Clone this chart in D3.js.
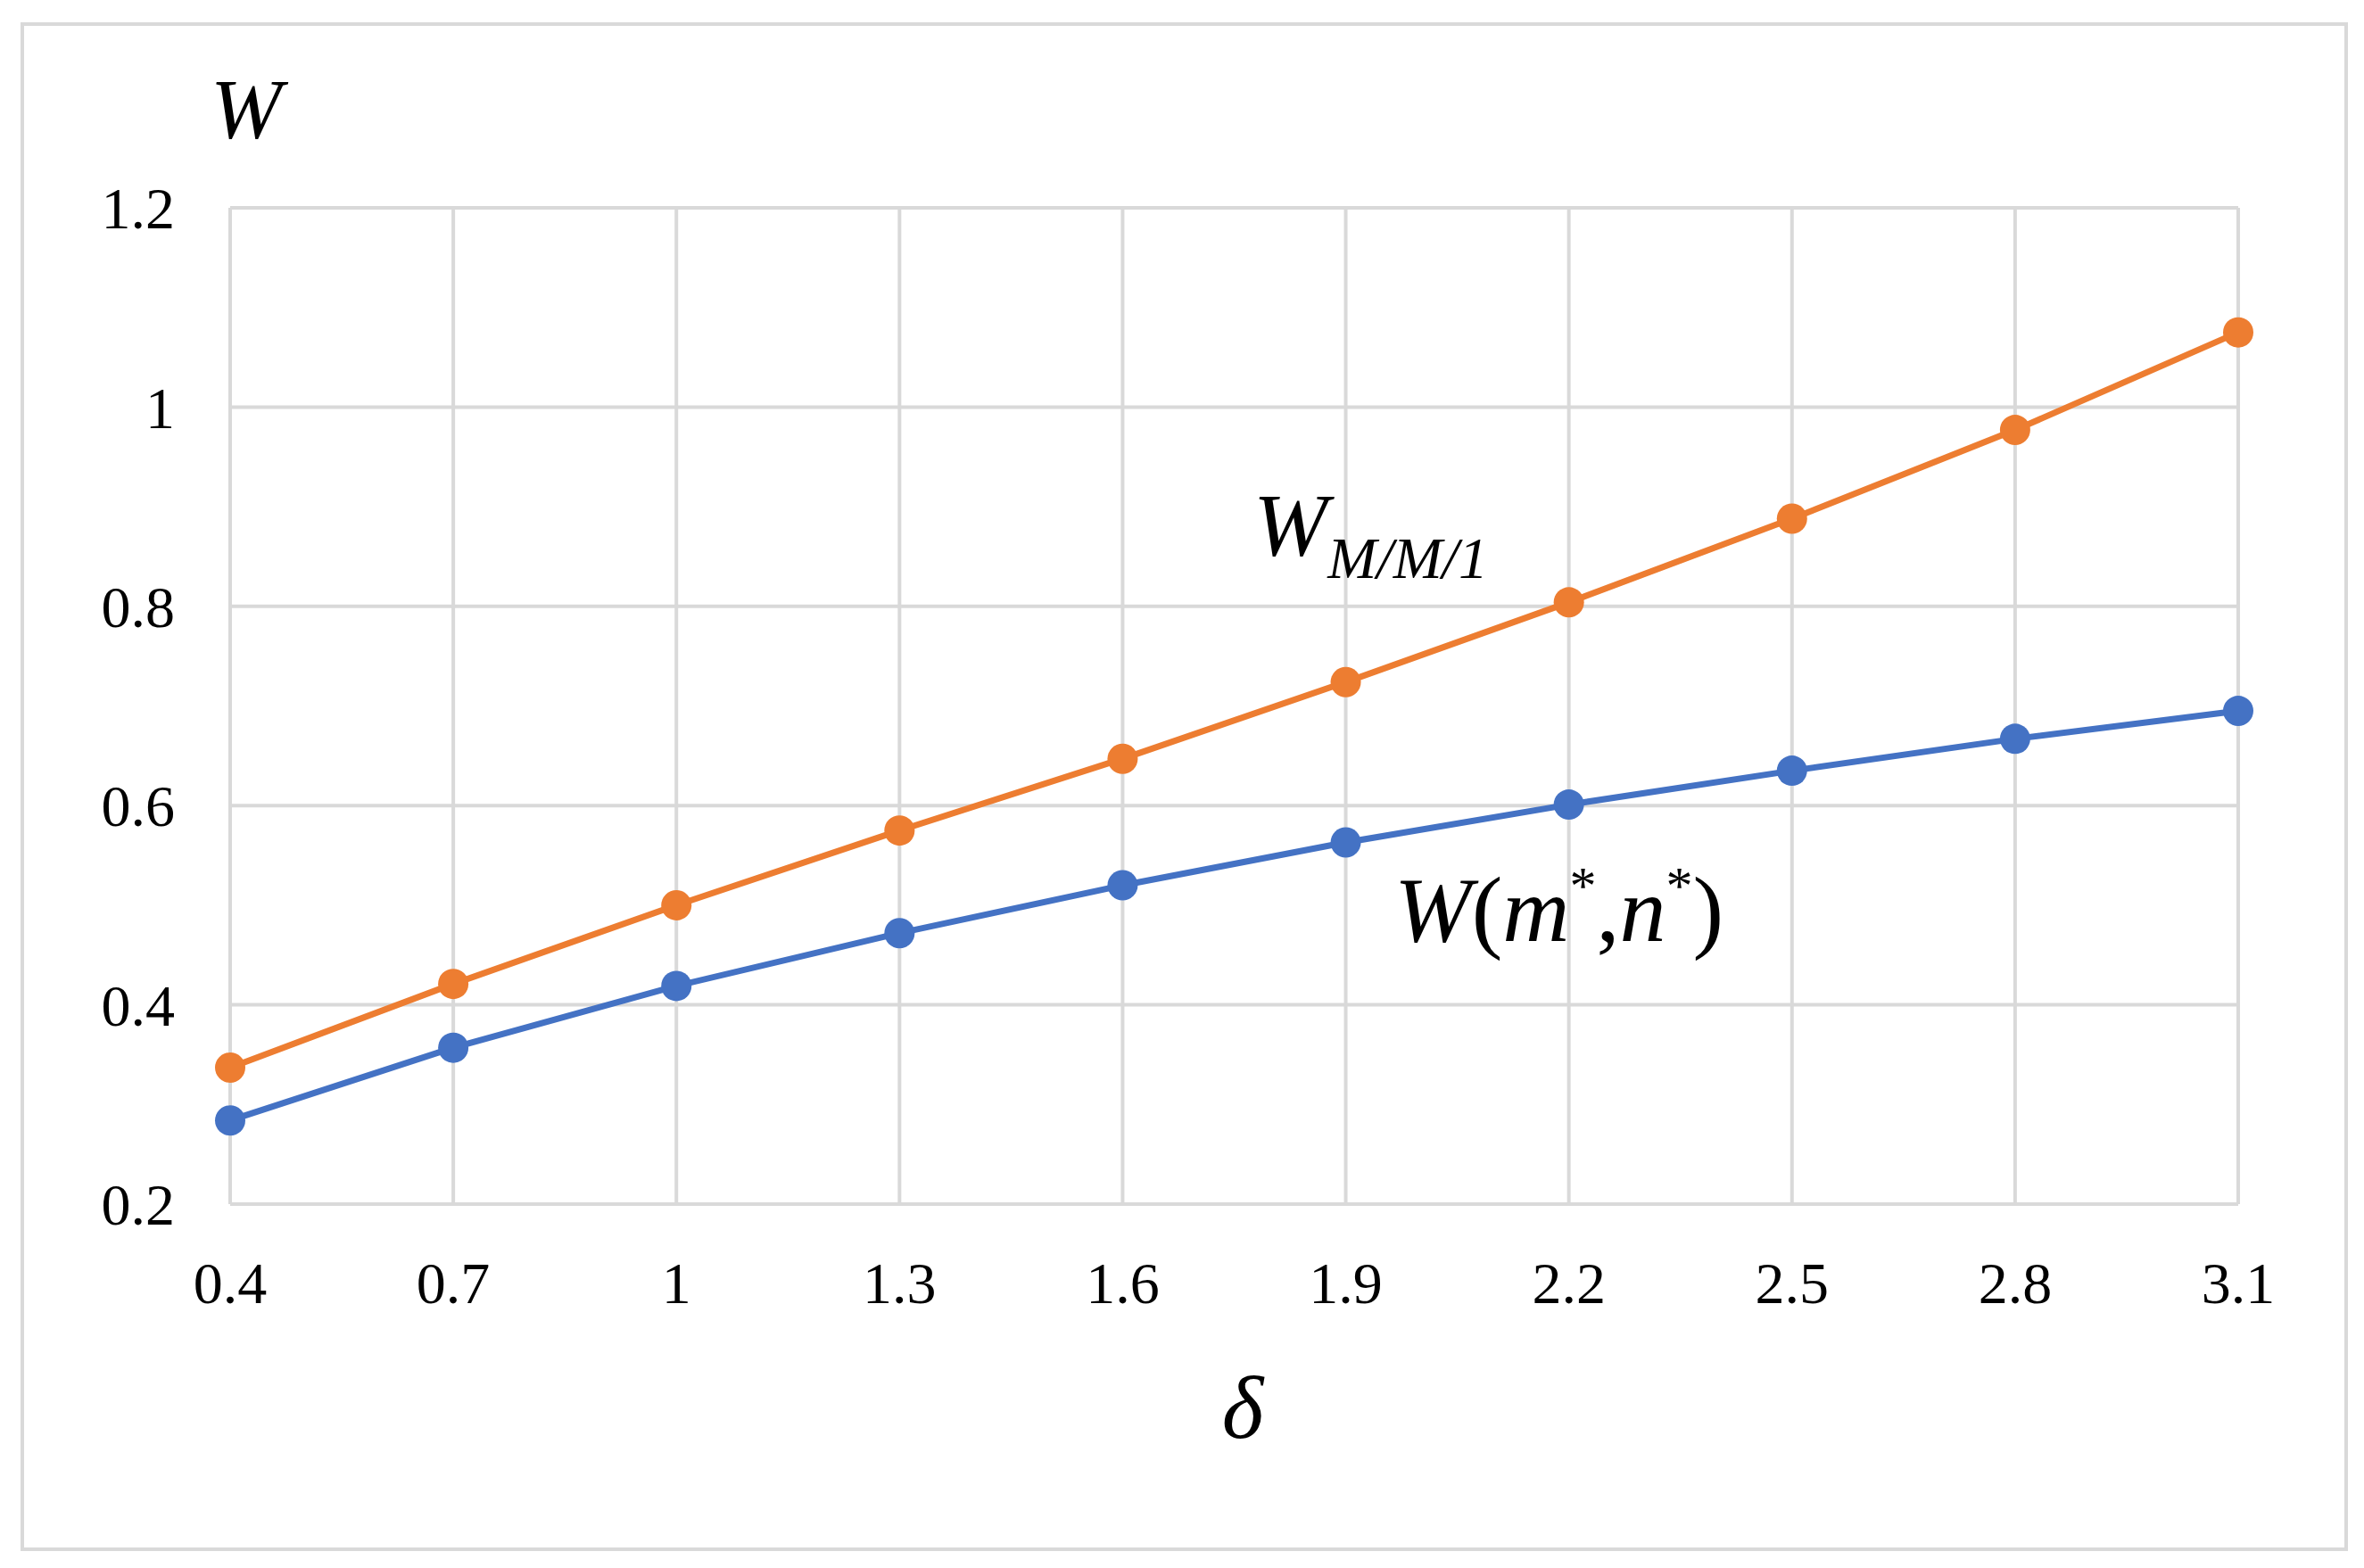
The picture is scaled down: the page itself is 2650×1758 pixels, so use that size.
<!DOCTYPE html>
<html>
<head>
<meta charset="UTF-8">
<script src="https://cdn.jsdelivr.net/npm/d3@7"></script>
<style>
  body { margin: 0; background: #fff; }
  text { font-family: "Liberation Serif", "DejaVu Serif", serif; fill: #000; }
</style>
</head>
<body>
<svg id="chart" width="2650" height="1758"></svg>
<script>
const deltas = [0.4, 0.7, 1, 1.3, 1.6, 1.9, 2.2, 2.5, 2.8, 3.1];
const wMM1 = [0.337, 0.421, 0.5, 0.575, 0.647, 0.724, 0.804, 0.888, 0.977, 1.075];
const wOpt = [0.284, 0.357, 0.419, 0.472, 0.52, 0.563, 0.601, 0.635, 0.667, 0.695];
const yTicks = [0.2, 0.4, 0.6, 0.8, 1, 1.2];

const svg = d3.select("#chart");
const plotLeft = 258, plotRight = 2509, plotTop = 233, plotBottom = 1350;

// outer frame
svg.append("rect").attr("x", 25).attr("y", 27).attr("width", 2605).attr("height", 1710)
  .attr("fill", "none").attr("stroke", "#d9d9d9").attr("stroke-width", 4);

const x = d3.scaleLinear().domain([0.4, 3.1]).range([plotLeft, plotRight]);
const y = d3.scaleLinear().domain([0.2, 1.2]).range([plotBottom, plotTop]);

// grid
svg.append("g").selectAll("line").data(deltas).join("line")
  .attr("x1", d => x(d)).attr("x2", d => x(d)).attr("y1", plotTop).attr("y2", plotBottom)
  .attr("stroke", "#d9d9d9").attr("stroke-width", 4);
svg.append("g").selectAll("line").data(yTicks).join("line")
  .attr("x1", plotLeft).attr("x2", plotRight).attr("y1", d => y(d)).attr("y2", d => y(d))
  .attr("stroke", "#d9d9d9").attr("stroke-width", 4);

// tick labels
svg.append("g").selectAll("text").data(deltas).join("text")
  .attr("x", d => x(d)).attr("y", 1461).attr("text-anchor", "middle")
  .attr("font-size", 66).text(d => d);
svg.append("g").selectAll("text").data(yTicks).join("text")
  .attr("x", 196).attr("y", d => y(d)).attr("dy", "0.35em").attr("text-anchor", "end")
  .attr("font-size", 66).text(d => d);

// axis titles
svg.append("text").attr("x", 236).attr("y", 155).attr("font-size", 96)
  .attr("font-style", "italic").text("W");
svg.append("text").attr("x", 1393).attr("y", 1612).attr("text-anchor", "middle")
  .attr("font-size", 100).attr("font-style", "italic").text("δ");

const line = d3.line().x((d, i) => x(deltas[i])).y(d => y(d));
const series = [{ v: wMM1, c: "#ED7D31" }, { v: wOpt, c: "#4472C4" }];
series.forEach(s => {
  svg.append("path").datum(s.v).attr("d", line).attr("fill", "none")
    .attr("stroke", s.c).attr("stroke-width", 7);
  svg.append("g").selectAll("circle").data(s.v).join("circle")
    .attr("cx", (d, i) => x(deltas[i])).attr("cy", d => y(d)).attr("r", 17).attr("fill", s.c);
});

// annotations
const a1 = svg.append("text").attr("x", 1405).attr("y", 622).attr("font-style", "italic");
a1.append("tspan").attr("font-size", 100).text("W");
a1.append("tspan").attr("font-size", 66).attr("dy", 26).text("M/M/1");

const a2 = svg.append("text").attr("x", 1563).attr("y", 1055).attr("font-size", 104).attr("font-style", "italic");
a2.append("tspan").text("W");
a2.append("tspan").attr("font-style", "normal").text("(");
a2.append("tspan").text("m");
a2.append("tspan").attr("font-size", 60).attr("dy", -42).attr("font-style", "normal").text("*");
a2.append("tspan").attr("dy", 42).attr("font-style", "normal").text(",");
a2.append("tspan").text("n");
a2.append("tspan").attr("font-size", 60).attr("dy", -42).attr("font-style", "normal").text("*");
a2.append("tspan").attr("dy", 42).attr("font-style", "normal").text(")");
</script>
</body>
</html>
